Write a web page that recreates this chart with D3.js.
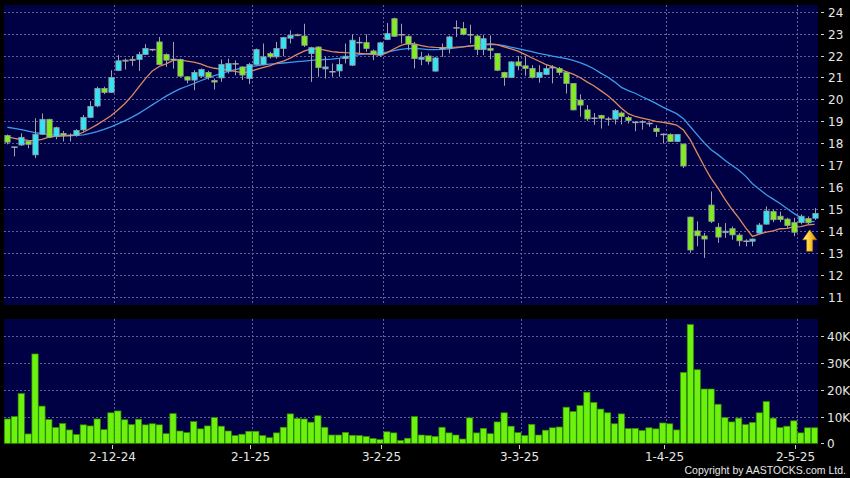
<!DOCTYPE html>
<html><head><meta charset="utf-8">
<script src="https://cdn.jsdelivr.net/npm/d3@7"></script>
<style>html,body{margin:0;padding:0;background:#000;}svg{display:block;}</style>
</head><body>
<script>
// ---- data ----
const dates = [
"8-11-24","11-11-24","12-11-24","13-11-24","14-11-24","15-11-24","18-11-24","19-11-24","20-11-24","21-11-24","22-11-24","25-11-24","26-11-24","27-11-24","28-11-24","29-11-24",
"2-12-24","3-12-24","4-12-24","5-12-24","6-12-24","9-12-24","10-12-24","11-12-24","12-12-24","13-12-24","16-12-24","17-12-24","18-12-24","19-12-24","20-12-24","23-12-24","24-12-24","27-12-24","30-12-24","31-12-24",
"2-1-25","3-1-25","6-1-25","7-1-25","8-1-25","9-1-25","10-1-25","13-1-25","14-1-25","15-1-25","16-1-25","17-1-25","20-1-25","21-1-25","22-1-25","23-1-25","24-1-25","27-1-25","28-1-25",
"3-2-25","4-2-25","5-2-25","6-2-25","7-2-25","10-2-25","11-2-25","12-2-25","13-2-25","14-2-25","17-2-25","18-2-25","19-2-25","20-2-25","21-2-25","24-2-25","25-2-25","26-2-25","27-2-25","28-2-25",
"3-3-25","4-3-25","5-3-25","6-3-25","7-3-25","10-3-25","11-3-25","12-3-25","13-3-25","14-3-25","17-3-25","18-3-25","19-3-25","20-3-25","21-3-25","24-3-25","25-3-25","26-3-25","27-3-25","28-3-25","31-3-25",
"1-4-25","2-4-25","3-4-25","7-4-25","8-4-25","9-4-25","10-4-25","11-4-25","14-4-25","15-4-25","16-4-25","17-4-25","22-4-25","23-4-25","24-4-25","25-4-25","28-4-25","29-4-25","30-4-25",
"2-5-25","6-5-25","7-5-25"];

const open = [18.35,17.82,17.92,18.09,17.47,18.41,19.09,18.30,18.45,18.36,18.36,18.61,19.18,19.70,20.50,20.32,
21.32,21.79,21.83,21.82,22.05,22.27,22.62,22.05,21.82,21.82,21.03,20.88,21.06,21.23,20.86,20.98,21.29,21.62,21.48,20.95,
21.59,21.59,22.09,21.94,22.32,22.79,22.95,22.89,22.09,22.39,21.39,21.26,21.30,21.86,21.56,22.59,22.59,22.21,22.02,
22.73,23.68,22.95,22.88,22.50,21.83,21.98,21.29,22.32,22.32,23.26,23.23,22.95,22.89,22.27,22.32,22.09,21.23,21.00,21.71,
21.53,21.41,21.00,21.14,21.45,21.41,21.23,20.73,19.97,19.52,19.14,19.27,19.10,19.10,19.38,19.17,18.95,18.97,18.90,18.68,18.40,
18.40,18.08,17.96,14.63,14.00,13.77,15.18,14.17,13.92,14.10,13.81,13.53,13.53,13.90,14.31,14.88,14.67,14.54,14.38,
14.38,14.57,14.58];
const high = [18.40,17.84,18.45,18.15,19.14,19.36,19.12,18.76,18.56,18.45,18.64,19.29,19.92,20.58,20.58,21.33,
22.02,21.86,21.98,22.17,22.52,22.30,22.85,22.10,22.62,21.86,21.06,21.33,21.41,21.30,20.95,21.82,21.86,21.78,21.52,21.67,
22.32,22.55,22.17,22.62,22.85,23.15,23.00,23.45,22.40,22.42,21.94,21.64,21.86,22.55,22.97,22.85,22.97,22.27,22.62,
23.48,23.73,23.45,22.92,22.62,22.17,22.09,21.94,22.55,22.90,23.60,23.53,23.41,22.95,22.95,22.92,22.12,21.26,21.74,21.98,
21.98,21.56,21.56,21.56,21.56,21.48,21.27,20.73,20.23,19.74,19.38,19.30,19.20,19.56,19.45,19.25,19.00,19.05,18.95,18.82,18.45,
18.45,18.42,17.98,14.65,14.44,13.91,15.80,14.36,14.36,14.20,13.90,13.62,13.65,14.36,15.12,14.97,14.88,14.60,14.60,
14.75,14.66,15.04];
const low = [17.95,17.40,17.88,17.77,17.32,18.38,18.23,18.18,18.08,18.08,18.30,18.53,19.14,19.64,20.24,20.30,
21.29,21.36,21.53,21.30,22.02,22.20,21.56,21.48,21.40,21.03,20.73,20.42,20.98,20.90,20.45,20.80,21.18,21.10,20.88,20.70,
21.56,21.56,21.86,21.86,21.97,22.55,22.88,22.39,20.80,21.03,20.95,21.03,21.03,21.64,21.52,22.09,22.17,21.79,21.94,
22.70,22.85,22.55,22.24,21.41,21.56,21.59,21.26,21.94,22.09,22.85,22.92,22.55,22.02,22.02,21.83,21.29,20.62,20.98,21.33,
21.08,20.95,20.76,21.10,20.73,21.10,20.27,19.50,19.21,19.02,18.84,18.67,18.80,18.86,18.86,18.90,18.55,18.62,18.75,18.29,17.99,
18.06,18.06,16.87,13.00,13.30,12.77,14.36,13.45,13.68,13.60,13.30,13.30,13.30,13.88,14.28,14.40,14.40,14.14,13.76,
14.30,14.30,14.50];
const close = [18.05,17.82,18.27,17.95,18.41,19.09,18.27,18.71,18.35,18.36,18.58,19.18,19.68,20.50,20.32,21.00,
21.76,21.76,21.77,22.05,22.32,22.27,21.59,21.79,21.82,21.06,20.88,21.23,21.36,21.00,20.79,21.59,21.64,21.62,21.11,21.59,
22.27,21.94,21.94,22.32,22.82,22.92,22.92,22.47,22.36,21.45,21.48,21.26,21.59,21.97,22.70,22.59,22.32,22.06,22.58,
23.00,22.88,22.95,22.52,21.86,21.92,21.74,21.89,22.32,22.85,23.26,22.97,22.95,22.27,22.77,22.24,21.33,21.00,21.71,21.53,
21.41,21.00,21.23,21.41,21.45,21.23,20.73,19.52,19.74,19.11,19.14,19.14,19.10,19.49,19.22,19.04,18.95,18.97,18.90,18.53,18.40,
18.08,18.40,16.96,13.13,13.78,13.63,14.44,13.72,13.99,13.82,13.55,13.53,13.63,14.27,14.91,14.51,14.52,14.25,13.94,
14.67,14.37,14.80];
// volume in thousands of shares
const volume = [9.1,10.0,18.6,3.5,33.4,13.9,8.9,5.9,7.4,5.0,3.3,6.9,6.5,9.1,5.1,11.4,
12.1,8.8,7.0,9.0,6.9,7.3,6.9,3.6,11.1,4.6,4.0,8.1,5.4,6.5,9.6,6.4,4.6,2.9,3.4,4.5,
4.5,2.9,2.1,3.9,6.0,11.0,9.3,9.1,7.9,10.3,6.0,3.1,3.1,4.1,3.0,2.9,2.6,1.8,1.4,
4.3,3.9,1.1,1.9,10.0,3.1,2.9,2.6,6.0,3.9,3.1,1.6,9.5,3.9,5.6,3.6,8.0,11.4,6.4,4.0,
2.9,7.1,3.1,4.9,5.8,6.1,13.5,11.9,14.1,19.1,15.3,12.8,11.4,7.3,11.0,5.5,5.6,4.8,5.8,5.4,7.6,
7.3,5.0,26.5,44.4,27.5,20.3,20.3,14.6,9.6,8.0,9.4,7.0,7.8,11.4,15.6,9.4,5.9,6.4,8.4,
3.9,5.8,5.8];
// moving averages
const maShort = [18.30,18.22,18.17,18.13,18.12,18.18,18.28,18.32,18.33,18.35,18.38,18.50,18.67,18.85,19.05,19.25,
19.52,19.80,20.15,20.55,20.95,21.30,21.50,21.62,21.78,21.80,21.75,21.70,21.62,21.50,21.42,21.38,21.33,21.28,21.22,21.25,
21.36,21.45,21.53,21.65,21.75,21.88,22.05,22.20,22.30,22.32,22.25,22.18,22.15,22.13,22.12,22.10,22.08,22.05,22.02,
22.12,22.30,22.45,22.55,22.53,22.45,22.40,22.37,22.36,22.37,22.38,22.40,22.43,22.46,22.50,22.53,22.50,22.40,22.30,22.20,
22.05,21.90,21.75,21.60,21.50,21.38,21.27,21.15,21.00,20.80,20.62,20.40,20.18,19.90,19.60,19.35,19.22,19.15,19.08,19.00,18.95,
18.90,18.83,18.60,18.15,17.55,16.95,16.40,15.95,15.45,15.00,14.60,14.15,13.75,13.85,13.95,14.00,14.10,14.12,14.18,
14.20,14.28,14.30];
const maLong = [18.73,18.68,18.62,18.55,18.48,18.44,18.40,18.38,18.36,18.35,18.36,18.38,18.45,18.53,18.63,18.75,
18.88,19.02,19.18,19.35,19.55,19.75,19.95,20.15,20.32,20.48,20.60,20.72,20.85,20.97,21.08,21.18,21.28,21.36,21.42,21.48,
21.53,21.58,21.61,21.63,21.66,21.69,21.72,21.75,21.78,21.80,21.82,21.84,21.87,21.92,21.98,22.04,22.08,22.10,22.12,
22.16,22.22,22.28,22.32,22.33,22.30,22.27,22.27,22.28,22.30,22.35,22.40,22.44,22.47,22.50,22.51,22.50,22.45,22.38,22.32,
22.25,22.18,22.10,22.04,21.97,21.92,21.86,21.78,21.68,21.55,21.40,21.20,21.02,20.80,20.55,20.40,20.28,20.12,19.98,19.82,19.65,
19.50,19.35,19.12,18.75,18.38,18.02,17.70,17.48,17.22,17.00,16.78,16.50,16.15,15.90,15.65,15.45,15.25,15.02,14.80,
14.60,14.45,14.42];
const xTickLabels = ["2-12-24","2-1-25","3-2-25","3-3-25","1-4-25","2-5-25"];
const priceTicks = [24,23,22,21,20,19,18,17,16,15,14,13,12,11];
const volumeTicks = [0,10,20,30,40];
const volumeTickLabels = ["0","10K","20K","30K","40K"];

// ---- layout ----
const W = 850, H = 478;
const left = 4, right = 818;
const pTop = 5, pBot = 305;
const vTop = 319, vBot = 443.3;
const svg = d3.select("body").append("svg").attr("width", W).attr("height", H);
svg.append("rect").attr("width", W).attr("height", H).attr("fill", "#000");

const x = d3.scaleBand().domain(dates).range([left, right]).padding(0);
const step = x.step();
const cx = d => x(d) + step / 2;
const y = d3.scaleLinear().domain([11, 24]).range([296.7, 11.7]);
const yv = d3.scaleLinear().domain([0, 40]).range([vBot, 336.3]);

const navy = "#000044";
const gridCol = "#62629a";
const textCol = "#e6e6e6";
const font = "DejaVu Sans, Verdana, sans-serif";

// panels
svg.append("rect").attr("x", left).attr("y", pTop).attr("width", right-left).attr("height", pBot-pTop).attr("fill", navy);
svg.append("rect").attr("x", left).attr("y", vTop).attr("width", right-left).attr("height", vBot-vTop).attr("fill", navy);

// gridlines
const gp = svg.append("g").attr("stroke", gridCol).attr("stroke-dasharray", "2,2").attr("stroke-width", 1);
priceTicks.forEach(t => gp.append("line").attr("x1", left).attr("x2", right).attr("y1", Math.round(y(t))+0.5).attr("y2", Math.round(y(t))+0.5));
xTickLabels.forEach(d => {
  const xx = Math.round(x(d)) + 0.5;
  gp.append("line").attr("x1", xx).attr("x2", xx).attr("y1", pTop).attr("y2", pBot);
  gp.append("line").attr("x1", xx).attr("x2", xx).attr("y1", vTop).attr("y2", vBot);
});
volumeTicks.filter(t => t > 0).forEach(t => gp.append("line").attr("x1", left).attr("x2", right).attr("y1", Math.round(yv(t))+0.5).attr("y2", Math.round(yv(t))+0.5));

// moving averages
const maLine = d3.line().x((v,i) => cx(dates[i])).y(v => y(v));
svg.append("path").attr("d", maLine(maLong)).attr("fill", "none").attr("stroke", "#3d9be9").attr("stroke-width", 1.3);
svg.append("path").attr("d", maLine(maShort)).attr("fill", "none").attr("stroke", "#e0895e").attr("stroke-width", 1.3);

// candles
const bodyW = step - 1.6;
const gc = svg.append("g");
dates.forEach((d, i) => {
  const o = open[i], c = close[i], h = high[i], l = low[i];
  const xc = Math.round(cx(d)) + 0.5;
  gc.append("line").attr("x1", xc).attr("x2", xc).attr("y1", y(h)).attr("y2", y(l)).attr("stroke", "#a0a0a8").attr("stroke-width", 1);
  const top = y(Math.max(o, c)), bot = y(Math.min(o, c));
  if (Math.abs(o - c) < 0.005) {
    gc.append("line").attr("x1", xc - bodyW/2 - 0.5).attr("x2", xc + bodyW/2 + 0.5).attr("y1", top).attr("y2", top).attr("stroke", "#a8a8b0").attr("stroke-width", 1.5);
  } else {
    gc.append("rect").attr("x", xc - bodyW/2).attr("y", top).attr("width", bodyW).attr("height", Math.max(1, bot - top))
      .attr("fill", c > o ? "#33e4f4" : "#80ee1e").attr("stroke", "#9a9aa0").attr("stroke-width", 0.8);
  }
});

// arrow marker near last candles
const defs = svg.append("defs");
const grad = defs.append("linearGradient").attr("id", "ag").attr("x1", "0").attr("x2", "1").attr("y1", "0").attr("y2", "0");
grad.append("stop").attr("offset", "0%").attr("stop-color", "#fff8b0");
grad.append("stop").attr("offset", "45%").attr("stop-color", "#ffd23a");
grad.append("stop").attr("offset", "100%").attr("stop-color", "#d98a00");
const ax = cx(dates[116]) + 2, ay = y(14.05);
svg.append("path").attr("d", `M${ax},${ay} L${ax+7},${ay+10} L${ax+3},${ay+10} L${ax+3},${ay+21.5} L${ax-3},${ay+21.5} L${ax-3},${ay+10} L${ax-7},${ay+10} Z`)
  .attr("fill", "url(#ag)").attr("stroke", "#b07400").attr("stroke-width", 0.6);

// volume bars
svg.append("g").selectAll("rect").data(volume).join("rect")
  .attr("x", (v,i) => x(dates[i]) + 0.3).attr("width", step - 0.6)
  .attr("y", v => yv(v)).attr("height", v => vBot - yv(v))
  .attr("fill", "#6cf20e").attr("stroke", "#2f8a00").attr("stroke-width", 0.7);

// right axes
const ga = svg.append("g").attr("font-family", font).attr("font-size", 12).attr("fill", textCol);
priceTicks.forEach(t => {
  const yy = Math.round(y(t)) + 0.5;
  svg.append("line").attr("x1", 821).attr("x2", 824).attr("y1", yy).attr("y2", yy).attr("stroke", "#cfcfcf");
  ga.append("text").attr("x", 828).attr("y", yy + 4.5).text(t);
});
volumeTicks.forEach((t, k) => {
  const yy = Math.round(yv(t)) + 0.5;
  svg.append("line").attr("x1", 821).attr("x2", 824).attr("y1", yy).attr("y2", yy).attr("stroke", "#cfcfcf");
  ga.append("text").attr("x", 827).attr("y", yy + 4.5).text(volumeTickLabels[k]);
});

// bottom axis
xTickLabels.forEach(d => {
  const xx = Math.round(x(d)) - 1.5;
  svg.append("line").attr("x1", xx).attr("x2", xx).attr("y1", 445).attr("y2", 449).attr("stroke", "#cfcfcf");
  ga.append("text").attr("x", xx).attr("y", 460.5).attr("text-anchor", "middle").text(d);
});

svg.append("text").attr("x", 846).attr("y", 474).attr("text-anchor", "end")
  .attr("font-family", "Liberation Sans, Arial, sans-serif")
  .attr("font-size", 10.5).attr("fill", textCol).text("Copyright by AASTOCKS.com Ltd.");
</script>
</body></html>
